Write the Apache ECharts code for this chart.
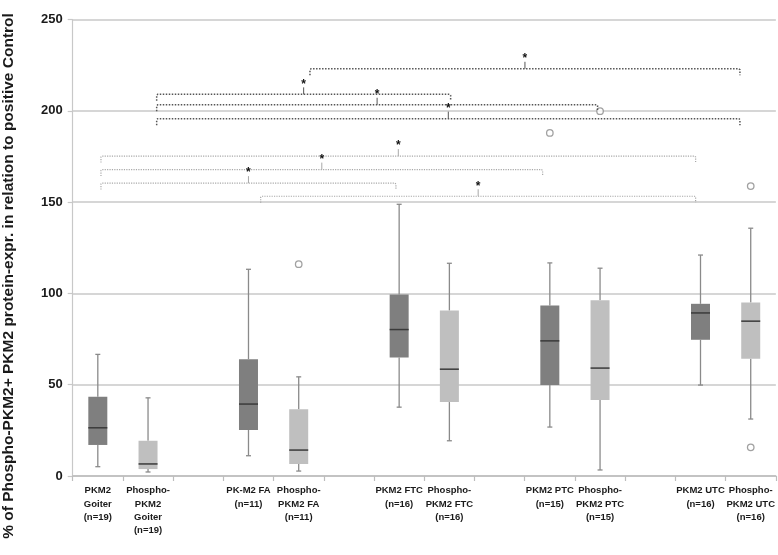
<!DOCTYPE html>
<html>
<head>
<meta charset="utf-8">
<script src="https://cdn.jsdelivr.net/npm/echarts@6/dist/echarts.min.js"></script>
<style>html,body{margin:0;padding:0;background:#fff}#c{width:778px;height:555px}</style>
</head>
<body>
<div id="c"></div>
<script>
// Categories (empty ones are spacers between groups)
const categories = [
  'PKM2\nGoiter\n(n=19)', 'Phospho-\nPKM2\nGoiter\n(n=19)', ' ',
  'PK-M2 FA\n(n=11)', 'Phospho-\nPKM2 FA\n(n=11)', '  ',
  'PKM2 FTC\n(n=16)', 'Phospho-\nPKM2 FTC\n(n=16)', '   ',
  'PKM2 PTC\n(n=15)', 'Phospho-\nPKM2 PTC\n(n=15)', '    ',
  'PKM2 UTC\n(n=16)', 'Phospho-\nPKM2 UTC\n(n=16)'
];
// Box stats: [categoryIndex, min, Q1, median, Q3, max]
const pkm2Boxes = [
  [0, 5.1, 17.0, 26.4, 43.4, 66.6],
  [3, 11.1, 25.2, 39.4, 64.0, 113.2],
  [6, 37.7, 64.9, 80.2, 99.4, 148.8],
  [9, 26.8, 49.9, 74.0, 93.4, 116.7],
  [12, 49.8, 74.6, 89.3, 94.3, 121.0]
];
const phosphoBoxes = [
  [1, 2.2, 3.8, 6.6, 19.3, 42.8],
  [4, 2.7, 6.6, 14.2, 36.5, 54.3],
  [7, 19.3, 40.5, 58.5, 90.6, 116.5],
  [10, 3.3, 41.6, 59.1, 96.3, 113.8],
  [13, 31.2, 64.2, 84.8, 95.0, 135.7]
];
// Outliers: [categoryIndex, value]
const outliers = [[4, 116.0], [9, 187.9], [10, 199.8], [13, 158.8], [13, 15.7]];
// Significance brackets: [x start, x end, level] (x in category units)
const upperBrackets = [
  [4.224, 12.785, 223.0],
  [1.172, 7.025, 209.0],
  [1.172, 9.95, 203.3],
  [1.172, 12.785, 195.7]
];
const lowerBrackets = [
  [0.063, 11.903, 175.2],
  [0.063, 8.857, 167.8],
  [0.063, 5.936, 160.4],
  [3.243, 11.903, 153.2]
];
const yTicks = { min: 0, max: 250, interval: 50 };
const yTitle = '% of Phospho-PKM2+ PKM2 protein-expr. in relation to positive Control';

const FONT = '"Liberation Sans", Arial, sans-serif';

function boxRender(fill) {
  return function (params, api) {
    const ci = api.value(0);
    const pMin = api.coord([ci, api.value(1)]);
    const pQ1 = api.coord([ci, api.value(2)]);
    const pMed = api.coord([ci, api.value(3)]);
    const pQ3 = api.coord([ci, api.value(4)]);
    const pMax = api.coord([ci, api.value(5)]);
    const x = pMed[0];
    const bw = 19, cw = 5;
    const wl = { stroke: '#8a8a8a', lineWidth: 1.3 };
    return {
      type: 'group',
      children: [
        { type: 'line', shape: { x1: x, y1: pMax[1], x2: x, y2: pQ3[1] }, style: wl },
        { type: 'line', shape: { x1: x, y1: pQ1[1], x2: x, y2: pMin[1] }, style: wl },
        { type: 'line', shape: { x1: x - cw / 2, y1: pMax[1], x2: x + cw / 2, y2: pMax[1] }, style: wl },
        { type: 'line', shape: { x1: x - cw / 2, y1: pMin[1], x2: x + cw / 2, y2: pMin[1] }, style: wl },
        { type: 'rect', shape: { x: x - bw / 2, y: pQ3[1], width: bw, height: pQ1[1] - pQ3[1] }, style: { fill: fill, stroke: null } },
        { type: 'line', shape: { x1: x - bw / 2, y1: pMed[1], x2: x + bw / 2, y2: pMed[1] }, style: { stroke: '#3a3a3a', lineWidth: 1.5 } }
      ]
    };
  };
}

function bracketRender(color, width, dash) {
  return function (params, api) {
    const a = api.coord([api.value(0), api.value(2)]);
    const b = api.coord([api.value(1), api.value(2)]);
    const y = a[1];
    const cx = (a[0] + b[0]) / 2;
    const st = { stroke: color, lineWidth: width, lineDash: dash, fill: null };
    return {
      type: 'group',
      children: [
        { type: 'polyline', shape: { points: [[a[0], y + 6.5], [a[0], y + 1], [a[0] + 1, y], [b[0] - 1, y], [b[0], y + 1], [b[0], y + 6.5]] }, style: st },
        { type: 'line', shape: { x1: cx, y1: y, x2: cx, y2: y - 7 }, style: { stroke: color, lineWidth: 1, fill: null } },
        { type: 'text', x: cx, y: y - 10, style: { text: '*', fill: '#111', font: 'bold 12px ' + FONT, align: 'center', verticalAlign: 'middle' } }
      ]
    };
  };
}

const chart = echarts.init(document.getElementById('c'), null, { renderer: 'canvas' });
chart.setOption({
  animation: false,
  backgroundColor: '#fff',
  grid: { left: 72.7, right: 2, top: 19.5, bottom: 79 },
  xAxis: [{
    type: 'category',
    data: categories,
    boundaryGap: true,
    axisLine: { lineStyle: { color: '#bdbdbd', width: 1.5 } },
    axisTick: { show: true, interval: 0, length: 5, lineStyle: { color: '#bdbdbd', width: 1.2 } },
    axisLabel: { interval: 0, color: '#1a1a1a', fontWeight: 'bold', fontSize: 9.5, lineHeight: 13.3, fontFamily: FONT, margin: 8 },
    splitLine: { show: false }
  }, {
    type: 'value', min: -0.5, max: 13.5, show: false
  }],
  yAxis: {
    type: 'value', min: yTicks.min, max: yTicks.max, interval: yTicks.interval,
    axisLine: { show: true, onZero: false, lineStyle: { color: '#c8c8c8', width: 1.2 } },
    axisTick: { show: true, length: 5, lineStyle: { color: '#c8c8c8', width: 1.2 } },
    axisLabel: { color: '#1a1a1a', fontWeight: 'bold', fontSize: 13, fontFamily: FONT, margin: 10 },
    splitLine: { lineStyle: { color: '#c8c8c8', width: 1.5 } }
  },
  graphic: [{
    type: 'text', x: 9, y: 276, rotation: Math.PI / 2,
    style: { text: yTitle, fill: '#1a1a1a', font: 'bold 15.5px ' + FONT, align: 'center', verticalAlign: 'middle' }
  }],
  series: [
    { type: 'custom', name: 'PKM2', xAxisIndex: 0, renderItem: boxRender('#7f7f7f'), data: pkm2Boxes, encode: { x: 0, y: [1, 2, 3, 4, 5] }, z: 3 },
    { type: 'custom', name: 'Phospho-PKM2', xAxisIndex: 0, renderItem: boxRender('#bfbfbf'), data: phosphoBoxes, encode: { x: 0, y: [1, 2, 3, 4, 5] }, z: 3 },
    { type: 'scatter', name: 'Outliers', xAxisIndex: 0, data: outliers, symbol: 'circle', symbolSize: 6.5,
      itemStyle: { color: '#fff', borderColor: '#8a8a8a', borderWidth: 1.3 }, z: 4 },
    { type: 'custom', name: 'upper', xAxisIndex: 1, renderItem: bracketRender('#555', 1.5, [1.5, 1.5]), data: upperBrackets, encode: { x: [0, 1], y: 2 }, z: 5 },
    { type: 'custom', name: 'lower', xAxisIndex: 1, renderItem: bracketRender('#a8a8a8', 1.2, [1.2, 1.2]), data: lowerBrackets, encode: { x: [0, 1], y: 2 }, z: 5 }
  ]
});
</script>
</body>
</html>
